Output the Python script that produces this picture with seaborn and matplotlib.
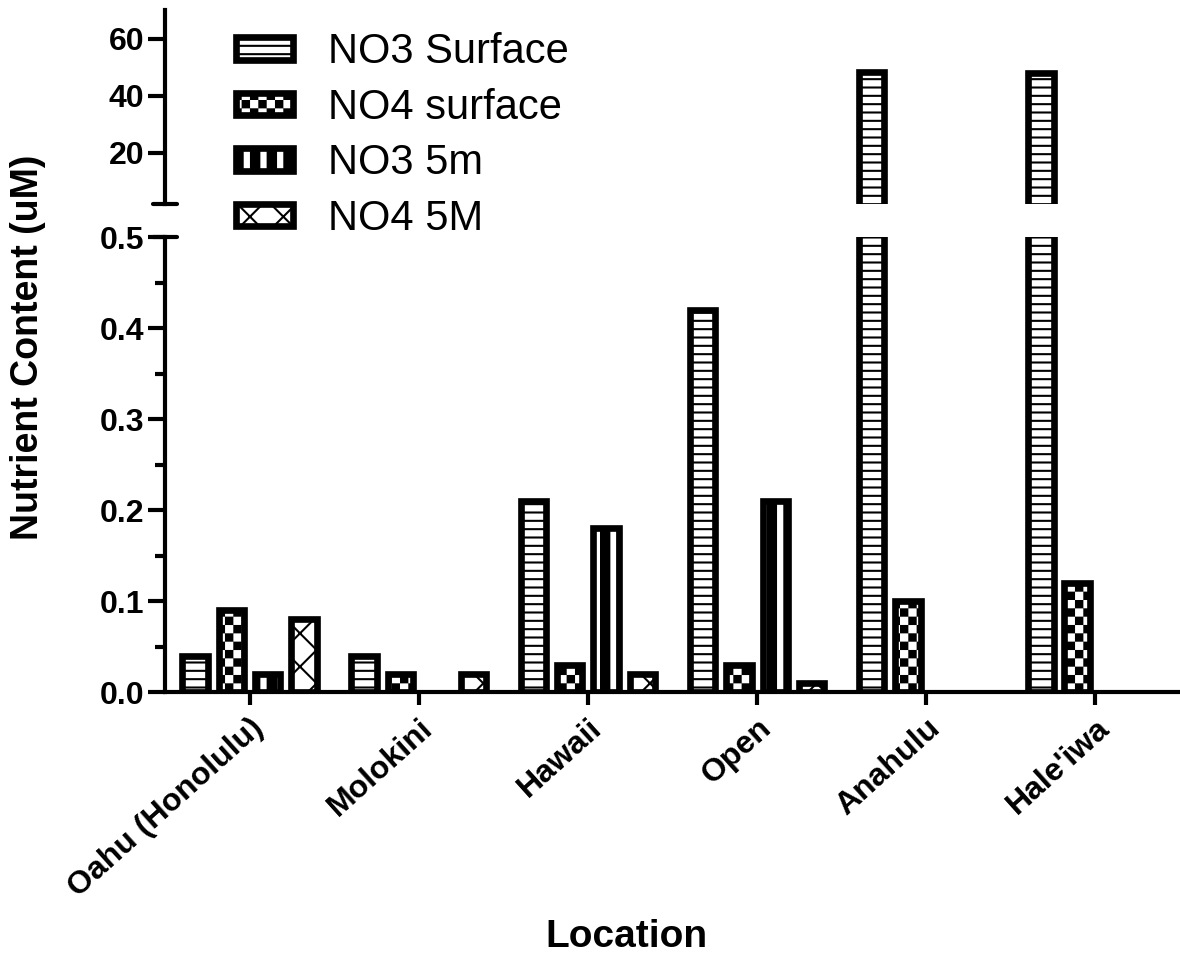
from warnings import filterwarnings

import numpy as np
import pandas as pd
import seaborn as sns
from matplotlib import pyplot as plt
from matplotlib import hatch as mhatch
from matplotlib.patches import Patch
from matplotlib.path import Path
from matplotlib.ticker import FormatStrFormatter, MultipleLocator

filterwarnings('ignore')

locations = ['Oahu (Honolulu)', 'Molokini', 'Hawaii', 'Open', 'Anahulu', "Hale'iwa"]
series = ['NO3 Surface', 'NO4 surface', 'NO3 5m', 'NO4 5M']
no3_surface = [0.04, 0.04, 0.21, 0.42, 48.5, 48.0]
no4_surface = [0.09, 0.02, 0.03, 0.03, 0.10, 0.12]
no3_5m = [0.02, np.nan, 0.18, 0.21, np.nan, np.nan]
no4_5m = [0.08, 0.02, 0.02, 0.01, np.nan, np.nan]

hatches = ['--', 'c', 'v', 'x']


class BlockHatch(mhatch.HatchPatternBase):
    """filled hatch: 'c' checkerboard, 'v' thick vertical stripes"""

    def __init__(self, hatch, density):
        rects = []
        inset = 0.01
        n = hatch.count('c') * 2 * density
        for i in range(n):
            for j in range(n):
                if (i + j) % 2 == 0:
                    rects.append((i / n + inset, j / n + inset, 1 / n - 2 * inset, 1 / n - 2 * inset))
        n = hatch.count('v') * density
        for i in range(n):
            rects.append((i / n + inset, 0, 0.5 / n, 1))
        self.rects = rects
        self.num_vertices = len(rects) * 5

    def set_vertices_and_codes(self, vertices, codes):
        for k, (x, y, w, h) in enumerate(self.rects):
            vertices[k * 5:(k + 1) * 5] = [(x, y), (x + w, y), (x + w, y + h), (x, y + h), (x, y)]
            codes[k * 5:(k + 1) * 5] = [Path.MOVETO, Path.LINETO, Path.LINETO, Path.LINETO, Path.CLOSEPOLY]


mhatch._hatch_types.append(BlockHatch)

df = pd.DataFrame({
    'location': locations * 4,
    'series': np.repeat(series, len(locations)),
    'value': no3_surface + no4_surface + no3_5m + no4_5m,
})

sns.set_style('ticks')
plt.rcParams['font.family'] = ['Liberation Sans', 'DejaVu Sans']
plt.rcParams['hatch.linewidth'] = 1.5
plt.rcParams['axes.linewidth'] = 3
for key in ['text.color', 'axes.labelcolor', 'axes.edgecolor', 'xtick.color', 'ytick.color']:
    plt.rcParams[key] = 'black'

fig = plt.figure(figsize=(11.8, 9.68), dpi=100)
ax_top = fig.add_axes([0.1398, 0.789, 0.8602, 0.2004])
ax_bot = fig.add_axes([0.1398, 0.2851, 0.8602, 0.470])

edge_lw = 4.8
tick_fs = 23
for ax in (ax_top, ax_bot):
    sns.barplot(data=df, x='location', y='value', hue='series', order=locations, hue_order=series,
                palette={s: 'white' for s in series}, edgecolor='black', linewidth=edge_lw,
                width=0.86, gap=0.3, errorbar=None, legend=False, ax=ax)
    for cont, h in zip(ax.containers, hatches):
        for bar in cont:
            bar.set_hatch(h)
            bar.set_facecolor('white')
    ax.set_xlim(-0.5, 5.5)
    ax.set_xlabel('')
    ax.set_ylabel('')
    ax.spines['top'].set_visible(False)
    ax.spines['right'].set_visible(False)
    ax.patch.set_alpha(0)
    ax.tick_params(axis='y', which='major', length=12, width=3, labelsize=tick_fs, pad=3)
    ax.tick_params(axis='y', which='minor', length=7, width=3)

# upper segment
ax_top.set_ylim(2, 70)
ax_top.set_yticks([20, 40, 60])
ax_top.set_yticklabels(['20', '40', '60'], fontweight='bold', fontsize=tick_fs)
ax_top.spines['bottom'].set_visible(False)
ax_top.set_xticks([])
ax_top.plot([-0.012, 0.012], [0, 0], transform=ax_top.transAxes, clip_on=False, c='black', lw=3)

# lower segment
ax_bot.set_ylim(0, 0.5)
ax_bot.yaxis.set_major_locator(MultipleLocator(0.1))
ax_bot.yaxis.set_minor_locator(MultipleLocator(0.05))
ax_bot.yaxis.set_major_formatter(FormatStrFormatter('%.1f'))
for lbl in ax_bot.get_yticklabels():
    lbl.set_fontweight('bold')
ax_bot.plot([-0.012, 0.012], [1, 1], transform=ax_bot.transAxes, clip_on=False, c='black', lw=3)
ax_bot.tick_params(axis='x', length=9, width=3, labelsize=tick_fs, pad=6)
ax_bot.set_xticks(range(len(locations)))
ax_bot.set_xticklabels(locations, rotation=42, ha='right', rotation_mode='anchor', fontweight='bold')

fig.text(0.024, 0.6415, 'Nutrient Content (uM)', rotation=90, ha='center', va='center',
         fontsize=27, fontweight='bold')
fig.text(0.531, 0.032, 'Location', ha='center', va='center', fontsize=28, fontweight='bold')

handles = [Patch(facecolor='white', edgecolor='black', hatch=h, linewidth=edge_lw, label=s)
           for s, h in zip(series, hatches)]
fig.legend(handles=handles, loc='upper left', bbox_to_anchor=(0.182, 0.988), frameon=False,
           fontsize=30, handlelength=1.37, handleheight=0.46, handletextpad=0.85,
           labelspacing=0.37, borderpad=0)

plt.savefig('out.png', dpi=100)
plt.close()
